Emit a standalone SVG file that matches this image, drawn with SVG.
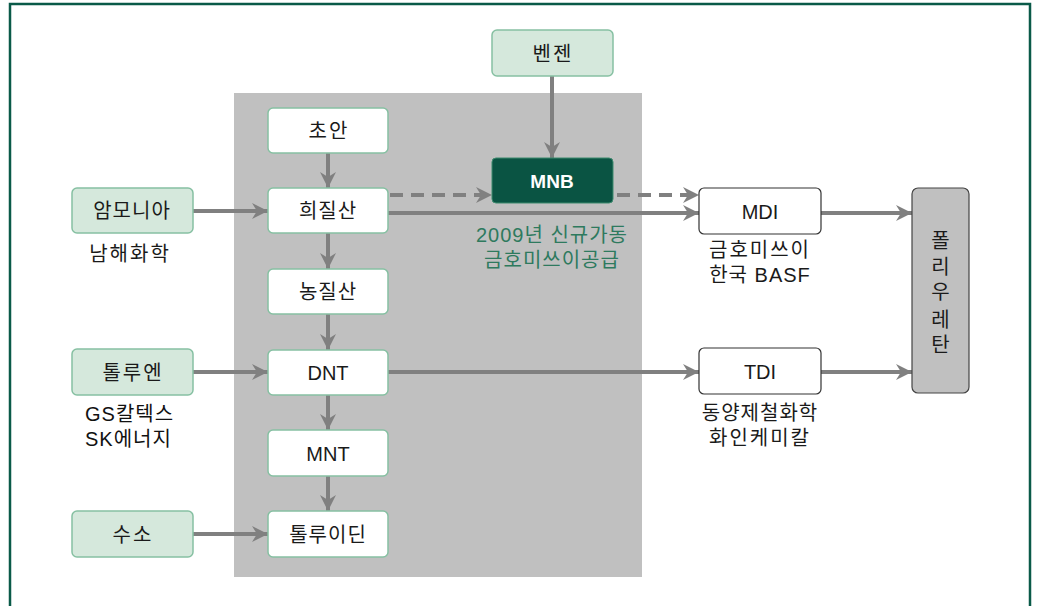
<svg xmlns="http://www.w3.org/2000/svg" width="1039" height="606" viewBox="0 0 1039 606">
<style>
.t{font-family:"Liberation Sans","Noto Sans CJK KR",sans-serif;font-size:20px;fill:#1a1a1a;text-anchor:middle;letter-spacing:1px;}
.l{font-family:"Liberation Sans","Noto Sans CJK KR",sans-serif;font-size:20px;fill:#111;letter-spacing:1px;}
.w{letter-spacing:2px;}
.src{fill:#d5e8dc;stroke:#86c0a2;stroke-width:1.5;}
.inn{fill:#fff;stroke:#86c0a2;stroke-width:1.5;}
.out{fill:#fff;stroke:#333;stroke-width:1.2;}
.c{stroke:#808080;stroke-width:4;fill:none;marker-end:url(#ah);}
.d{stroke-dasharray:13 8;}
</style>
<defs>
<marker id="ah" markerUnits="userSpaceOnUse" markerWidth="18" markerHeight="18" refX="16" refY="8" orient="auto">
<path d="M0,0 L16,8 L0,16 L5,8 z" fill="#808080"/>
</marker>
</defs>
<rect x="0" y="0" width="1039" height="606" fill="#fff"/>
<path d="M10,606 V4 H1030 V606" fill="none" stroke="#0a5a48" stroke-width="2.5"/>
<rect x="234" y="93" width="408" height="484" fill="#c0c0c0"/>

<g id="connectors">
<line class="c" x1="328" y1="153" x2="328" y2="188"/>
<line class="c" x1="193" y1="211" x2="268" y2="211"/>
<line class="c" x1="328" y1="233" x2="328" y2="269"/>
<line class="c" x1="328" y1="314" x2="328" y2="350"/>
<line class="c" x1="193" y1="372" x2="268" y2="372"/>
<line class="c" x1="328" y1="395" x2="328" y2="430"/>
<line class="c" x1="328" y1="476" x2="328" y2="511"/>
<line class="c" x1="193" y1="534" x2="268" y2="534"/>
<line class="c" x1="552" y1="76" x2="552" y2="158"/>
<line class="c d" x1="390" y1="195" x2="492" y2="195"/>
<line class="c d" x1="617" y1="195" x2="699" y2="195"/>
<line class="c" x1="388" y1="213" x2="699" y2="213"/>
<line class="c" x1="821" y1="213" x2="912" y2="213"/>
<line class="c" x1="388" y1="372" x2="699" y2="372"/>
<line class="c" x1="821" y1="372" x2="912" y2="372"/>
</g>

<g id="n-choan"><rect class="inn" x="268" y="108" width="120" height="45" rx="5"/><text class="t w" x="329" y="138">초안</text></g>
<g id="n-huijilsan"><rect class="inn" x="268" y="188" width="120" height="45" rx="5"/><text class="t" x="328" y="218">희질산</text></g>
<g id="n-nongjilsan"><rect class="inn" x="268" y="269" width="120" height="45" rx="5"/><text class="t" x="328" y="299">농질산</text></g>
<g id="n-dnt"><rect class="inn" x="268" y="350" width="120" height="45" rx="5"/><text class="t" x="328" y="380" style="letter-spacing:0">DNT</text></g>
<g id="n-mnt"><rect class="inn" x="268" y="430" width="120" height="46" rx="5"/><text class="t" x="328" y="461" style="letter-spacing:0">MNT</text></g>
<g id="n-toluidine"><rect class="inn" x="268" y="511" width="120" height="46" rx="5"/><text class="t" x="328" y="542">톨루이딘</text></g>

<g id="n-ammonia"><rect class="src" x="72" y="188" width="121" height="45" rx="5"/><text class="t" x="132" y="218">암모니아</text><text class="t w" x="130" y="261">남해화학</text></g>
<g id="n-toluene"><rect class="src" x="72" y="349" width="121" height="46" rx="5"/><text class="t w" x="133" y="380">톨루엔</text><text class="l" x="85" y="421">GS칼텍스</text><text class="l" x="85" y="446">SK에너지</text></g>
<g id="n-hydrogen"><rect class="src" x="72" y="511" width="121" height="46" rx="5"/><text class="t w" x="133" y="542">수소</text></g>
<g id="n-benzene"><rect class="src" x="492" y="30" width="121" height="46" rx="5"/><text class="t w" x="553" y="61">벤젠</text></g>
<g id="n-mnb"><rect x="492" y="158" width="121" height="45" rx="4" fill="#0a5443" stroke="#3d8a6e" stroke-width="1"/><text class="t" x="552" y="188" style="fill:#fff;font-weight:bold;font-size:19px;letter-spacing:0">MNB</text>
<text class="t" x="552" y="242" style="fill:#2e7a5e">2009년 신규가동</text><text class="t" x="552" y="267" style="fill:#2e7a5e">금호미쓰이공급</text></g>
<g id="n-mdi"><rect class="out" x="699" y="188" width="122" height="46" rx="5"/><text class="t" x="760" y="219" style="letter-spacing:0">MDI</text><text class="t w" x="760" y="257">금호미쓰이</text><text class="t" x="760" y="282">한국 BASF</text></g>
<g id="n-tdi"><rect class="out" x="699" y="348" width="122" height="46" rx="5"/><text class="t" x="760" y="379" style="letter-spacing:0">TDI</text><text class="t" x="760" y="420">동양제철화학</text><text class="t w" x="760" y="445">화인케미칼</text></g>
<g id="n-pu"><rect x="912" y="188" width="57" height="205" rx="6" fill="#c0c0c0" stroke="#444" stroke-width="1.2"/>
<text class="t" x="941" y="248">폴</text><text class="t" x="941" y="274">리</text><text class="t" x="941" y="299">우</text><text class="t" x="941" y="327">레</text><text class="t" x="941" y="352">탄</text></g>
</svg>
